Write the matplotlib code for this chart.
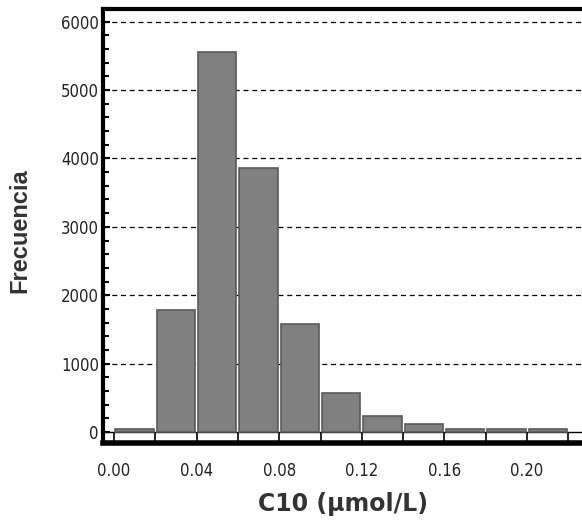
import numpy as np
import matplotlib
matplotlib.use("Agg")
import matplotlib.pyplot as plt
from matplotlib.ticker import MultipleLocator

# Histogram data (bin edges in umol/L, counts per bin)
bin_edges = [0.00, 0.02, 0.04, 0.06, 0.08, 0.10, 0.12, 0.14, 0.16, 0.18, 0.20, 0.22]
counts = [45, 1790, 5555, 3865, 1580, 570, 235, 115, 45, 45, 45]
xtick_values = [0.00, 0.04, 0.08, 0.12, 0.16, 0.20]
xtick_labels = ["0.00", "0.04", "0.08", "0.12", "0.16", "0.20"]
ytick_values = [0, 1000, 2000, 3000, 4000, 5000, 6000]

fig = plt.figure(figsize=(5.82, 5.23), dpi=100)
ax = fig.add_axes([103 / 582, 80 / 523, 479 / 582, 434 / 523])

edges = np.array(bin_edges)
widths = np.diff(edges)
ax.bar(edges[:-1] + 0.0007, counts, width=widths * 0.93, align="edge",
       color="#808080", edgecolor="#5a5a5a", linewidth=1.2, zorder=3)

ymin, ymax = -160, 6185
ax.set_xlim(-0.0053, 0.2266)
ax.set_ylim(ymin, ymax)

# strip of boxes below zero
ax.axhline(0, color="black", linewidth=1.0, zorder=2)
ax.vlines(list(edges) + [0.24], ymin, 0, color="black", linewidth=1.2, zorder=2)

# dashed gridlines
for v in ytick_values[1:]:
    ax.axhline(v, color="black", linewidth=0.9, linestyle=(0, (4, 3)), zorder=1)

tick_kw = dict(family="DejaVu Sans", fontsize=12, fontstretch="condensed",
               color="#222222")
ax.set_yticks(ytick_values)
ax.set_yticklabels([str(v) for v in ytick_values], **tick_kw)
ax.yaxis.set_minor_locator(MultipleLocator(200))
ax.tick_params(axis="y", which="major", direction="in", length=5, width=1.5, pad=3)
ax.tick_params(axis="y", which="minor", direction="in", length=4, width=1.5)

ax.set_xticks(xtick_values)
ax.set_xticklabels(xtick_labels, **tick_kw)
ax.tick_params(axis="x", which="major", length=0, pad=14)

for side in ["left", "top"]:
    ax.spines[side].set_linewidth(3)
ax.spines["bottom"].set_linewidth(4)
ax.spines["right"].set_visible(False)

ax.set_ylabel("Frecuencia", family=["Liberation Sans", "DejaVu Sans"], fontsize=17,
              fontweight="bold", color="#333333")
ax.yaxis.set_label_coords(-0.15, 0.49)
ax.set_xlabel("C10 (\u00b5mol/L)", family="DejaVu Sans", fontsize=17,
              fontweight="bold", color="#333333", labelpad=8)

fig.savefig("out.png", dpi=100)
